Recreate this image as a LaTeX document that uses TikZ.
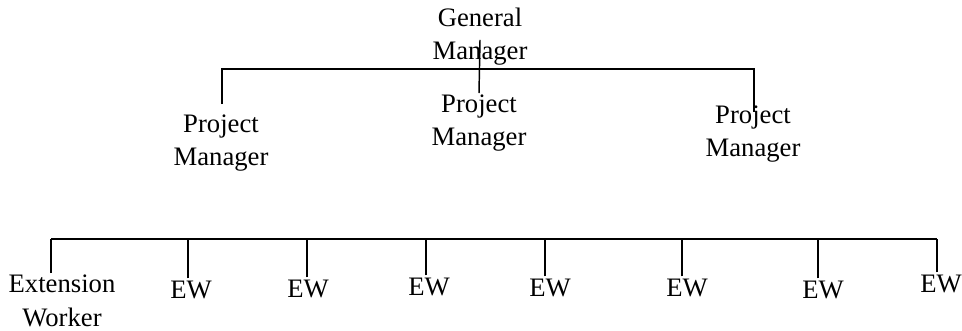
\documentclass[tikz,border=0pt]{standalone}
\usepackage{fontspec}
\setmainfont{Liberation Serif}
\usetikzlibrary{calc}
\tikzstyle{role} = [align=center, inner sep=0pt, anchor=north,
font=\fontsize{20}{24.8}\selectfont]
\tikzstyle{worker} = [inner sep=0pt, anchor=base, font=\fontsize{20}{24}\selectfont]
\tikzstyle{link} = [line width=1.1pt]

\begin{document}
\begin{tikzpicture}[x=0.75pt, y=-0.75pt]
  \useasboundingbox (0,0) rectangle (962,330);

  \node[role] (gm) at (480,8) {General\\Manager};
  \node[role] (pm1) at (221,115) {Project\\Manager};
  \node[role] (pm2) at (479,95) {Project\\Manager};
  \node[role] (pm3) at (753,106) {Project\\Manager};

  \coordinate (bar) at (480,69);
  \draw[link] ($(gm.center)+(0,3)$) -- ($(pm2.north)+(0,-2)$);
  \draw[link] ($(pm1.north)+(1,-11)$) |- (bar) -| ($(pm3.north)+(1,6)$);

  \node[role] (ext) at (62,275) {Extension\\Worker};
  \node[worker] (ew1) at (191,298) {EW};
  \node[worker] (ew2) at (308,297) {EW};
  \node[worker] (ew3) at (429,295) {EW};
  \node[worker] (ew4) at (550,296) {EW};
  \node[worker] (ew5) at (687,296) {EW};
  \node[worker] (ew6) at (823,298) {EW};
  \node[worker] (ew7) at (941,292) {EW};

  \coordinate (bus) at (0,239);
  \foreach \n/\d in {ext/-11, ew1/-3, ew2/-1, ew3/-3, ew4/-5, ew5/-5, ew6/-5, ew7/-4}
    \draw[link] ($(\n.north)+(\d,-2)$) coordinate (b\n) -- (b\n |- bus) coordinate (t\n);
  \draw[link] (text) -- (tew7);
\end{tikzpicture}
\end{document}
